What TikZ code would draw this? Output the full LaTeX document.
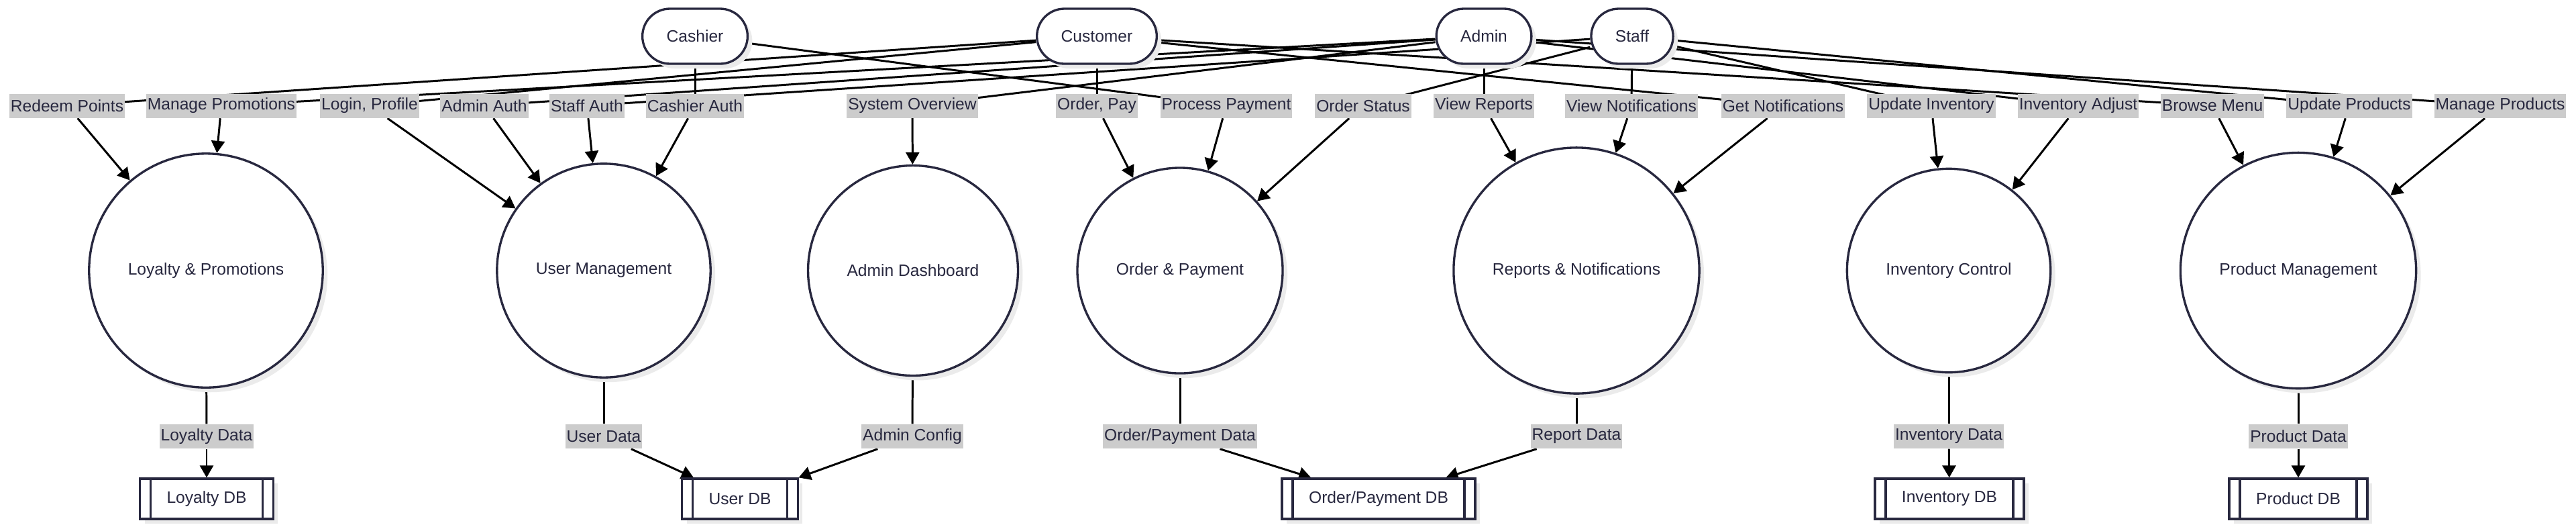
\documentclass[tikz, border = 0pt]{standalone}
\usepackage{fontspec}
\setmainfont{Liberation Sans}
\usetikzlibrary{arrows.meta, shadows, backgrounds}

\definecolor{ink}{HTML}{28283F}

\begin{document}
\begin{tikzpicture}[
	font = \fontsize{7pt}{8.4pt}\selectfont,
	shade/.style = {drop shadow = {shadow xshift = 0.07cm, shadow yshift = -0.07cm, fill = black!8, opacity = 1}},
	actor/.style = {draw = ink, line width = 0.95pt, fill = white, text = ink, rounded corners = 0.41cm, minimum height = 0.82cm, inner xsep = 0.36cm, shade},
	process/.style = {circle, draw = ink, line width = 0.95pt, fill = white, text = ink, inner xsep = 0.58cm, inner ysep = 0pt, shade},
	store/.style = {draw = ink, line width = 0.95pt, fill = white, text = ink, minimum height = 0.6cm, inner xsep = 0.4cm, shade,
		path picture = {
			\draw [ink, line width = 0.95pt] ([xshift = 0.16cm] path picture bounding box.north west) -- ([xshift = 0.16cm] path picture bounding box.south west)
				([xshift = -0.16cm] path picture bounding box.north east) -- ([xshift = -0.16cm] path picture bounding box.south east);
		}},
	flowlabel/.style = {fill = black!20, text = ink, minimum height = 0.36cm, inner xsep = 0.02cm, inner ysep = 0pt},
	flow/.style = {line width = 0.85pt},
	arrow/.style = {line width = 0.85pt, -{Triangle[length = 0.18cm, width = 0.2cm]}}
]

	\useasboundingbox (0, 0) rectangle (38.4, -7.81);

	% Actors

	\node [actor] (cashier) at (10.36, -0.54) {Cashier};
	\node [actor] (customer) at (16.35, -0.54) {Customer};
	\node [actor] (admin) at (22.12, -0.54) {Admin};
	\node [actor] (staff) at (24.33, -0.54) {Staff};

	% Flow labels

	\node [flowlabel] (redeem) at (1.00, -1.575) {Redeem Points};
	\node [flowlabel] (mpromo) at (3.30, -1.575) {Manage Promotions};
	\node [flowlabel] (login) at (5.51, -1.575) {Login, Profile};
	\node [flowlabel] (aauth) at (7.22, -1.575) {Admin Auth};
	\node [flowlabel] (sauth) at (8.75, -1.575) {Staff Auth};
	\node [flowlabel] (cauth) at (10.36, -1.575) {Cashier Auth};
	\node [flowlabel] (sysov) at (13.60, -1.575) {System Overview};
	\node [flowlabel] (orderpay) at (16.35, -1.575) {Order, Pay};
	\node [flowlabel] (procpay) at (18.28, -1.575) {Process Payment};
	\node [flowlabel] (ostatus) at (20.32, -1.575) {Order Status};
	\node [flowlabel] (vrep) at (22.12, -1.575) {View Reports};
	\node [flowlabel] (vnotif) at (24.32, -1.575) {View Notifications};
	\node [flowlabel] (gnotif) at (26.58, -1.575) {Get Notifications};
	\node [flowlabel] (uinv) at (28.79, -1.575) {Update Inventory};
	\node [flowlabel] (invadj) at (30.98, -1.575) {Inventory Adjust};
	\node [flowlabel] (browse) at (32.98, -1.575) {Browse Menu};
	\node [flowlabel] (uprod) at (35.02, -1.575) {Update Products};
	\node [flowlabel] (mprod) at (37.27, -1.575) {Manage Products};

	% Processes

	\node [process] (loyalty) at (3.07, -4.03) {Loyalty \& Promotions};
	\node [process] (user) at (9.00, -4.03) {User Management};
	\node [process] (dash) at (13.61, -4.03) {Admin Dashboard};
	\node [process] (order) at (17.59, -4.03) {Order \& Payment};
	\node [process] (reports) at (23.50, -4.03) {Reports \& Notifications};
	\node [process] (inventory) at (29.05, -4.03) {Inventory Control};
	\node [process] (product) at (34.26, -4.03) {Product Management};

	% Data labels + stores

	\node [flowlabel] (loydata) at (3.08, -6.50) {Loyalty Data};
	\node [flowlabel] (userdata) at (9.00, -6.50) {User Data};
	\node [flowlabel] (adcfg) at (13.60, -6.50) {Admin Config};
	\node [flowlabel] (opdata) at (17.59, -6.50) {Order/Payment Data};
	\node [flowlabel] (repdata) at (23.50, -6.50) {Report Data};
	\node [flowlabel] (invdata) at (29.05, -6.50) {Inventory Data};
	\node [flowlabel] (proddata) at (34.26, -6.50) {Product Data};

	\node [store] (loydb) at (3.08, -7.43) {Loyalty DB};
	\node [store] (userdb) at (11.03, -7.43) {User DB};
	\node [store] (opdb) at (20.55, -7.43) {Order/Payment DB};
	\node [store] (invdb) at (29.06, -7.43) {Inventory DB};
	\node [store] (proddb) at (34.26, -7.43) {Product DB};

	% Flows, behind the labels

	\begin{pgfonlayer}{background}
		\draw [flow] (customer) -- (redeem.center);   \draw [arrow] (redeem) -- (loyalty);
		\draw [flow] (admin) -- (mpromo.center);      \draw [arrow] (mpromo) -- (loyalty);
		\draw [flow] (customer) -- (login.center);    \draw [arrow] (login) -- (user);
		\draw [flow] (admin) -- (aauth.center);       \draw [arrow] (aauth) -- (user);
		\draw [flow] (staff) -- (sauth.center);       \draw [arrow] (sauth) -- (user);
		\draw [flow] (cashier) -- (cauth.center);     \draw [arrow] (cauth) -- (user);
		\draw [flow] (admin) -- (sysov.center);       \draw [arrow] (sysov) -- (dash);
		\draw [flow] (customer) -- (orderpay.center); \draw [arrow] (orderpay) -- (order);
		\draw [flow] (cashier) -- (procpay.center);   \draw [arrow] (procpay) -- (order);
		\draw [flow] (staff) -- (ostatus.center);     \draw [arrow] (ostatus) -- (order);
		\draw [flow] (admin) -- (vrep.center);        \draw [arrow] (vrep) -- (reports);
		\draw [flow] (staff) -- (vnotif.center);      \draw [arrow] (vnotif) -- (reports);
		\draw [flow] (customer) -- (gnotif.center);   \draw [arrow] (gnotif) -- (reports);
		\draw [flow] (staff) -- (uinv.center);        \draw [arrow] (uinv) -- (inventory);
		\draw [flow] (admin) -- (invadj.center);      \draw [arrow] (invadj) -- (inventory);
		\draw [flow] (customer) -- (browse.center);   \draw [arrow] (browse) -- (product);
		\draw [flow] (staff) -- (uprod.center);       \draw [arrow] (uprod) -- (product);
		\draw [flow] (admin) -- (mprod.center);       \draw [arrow] (mprod) -- (product);

		\draw [flow] (loyalty) -- (loydata);     \draw [arrow] (loydata) -- (loydb);
		\draw [flow] (user) -- (userdata);       \draw [arrow] (userdata) -- (userdb);
		\draw [flow] (dash) -- (adcfg);          \draw [arrow] (adcfg) -- (userdb);
		\draw [flow] (order) -- (opdata);        \draw [arrow] (opdata) -- (opdb);
		\draw [flow] (reports) -- (repdata);     \draw [arrow] (repdata) -- (opdb);
		\draw [flow] (inventory) -- (invdata);   \draw [arrow] (invdata) -- (invdb);
		\draw [flow] (product) -- (proddata);    \draw [arrow] (proddata) -- (proddb);
	\end{pgfonlayer}

\end{tikzpicture}
\end{document}
